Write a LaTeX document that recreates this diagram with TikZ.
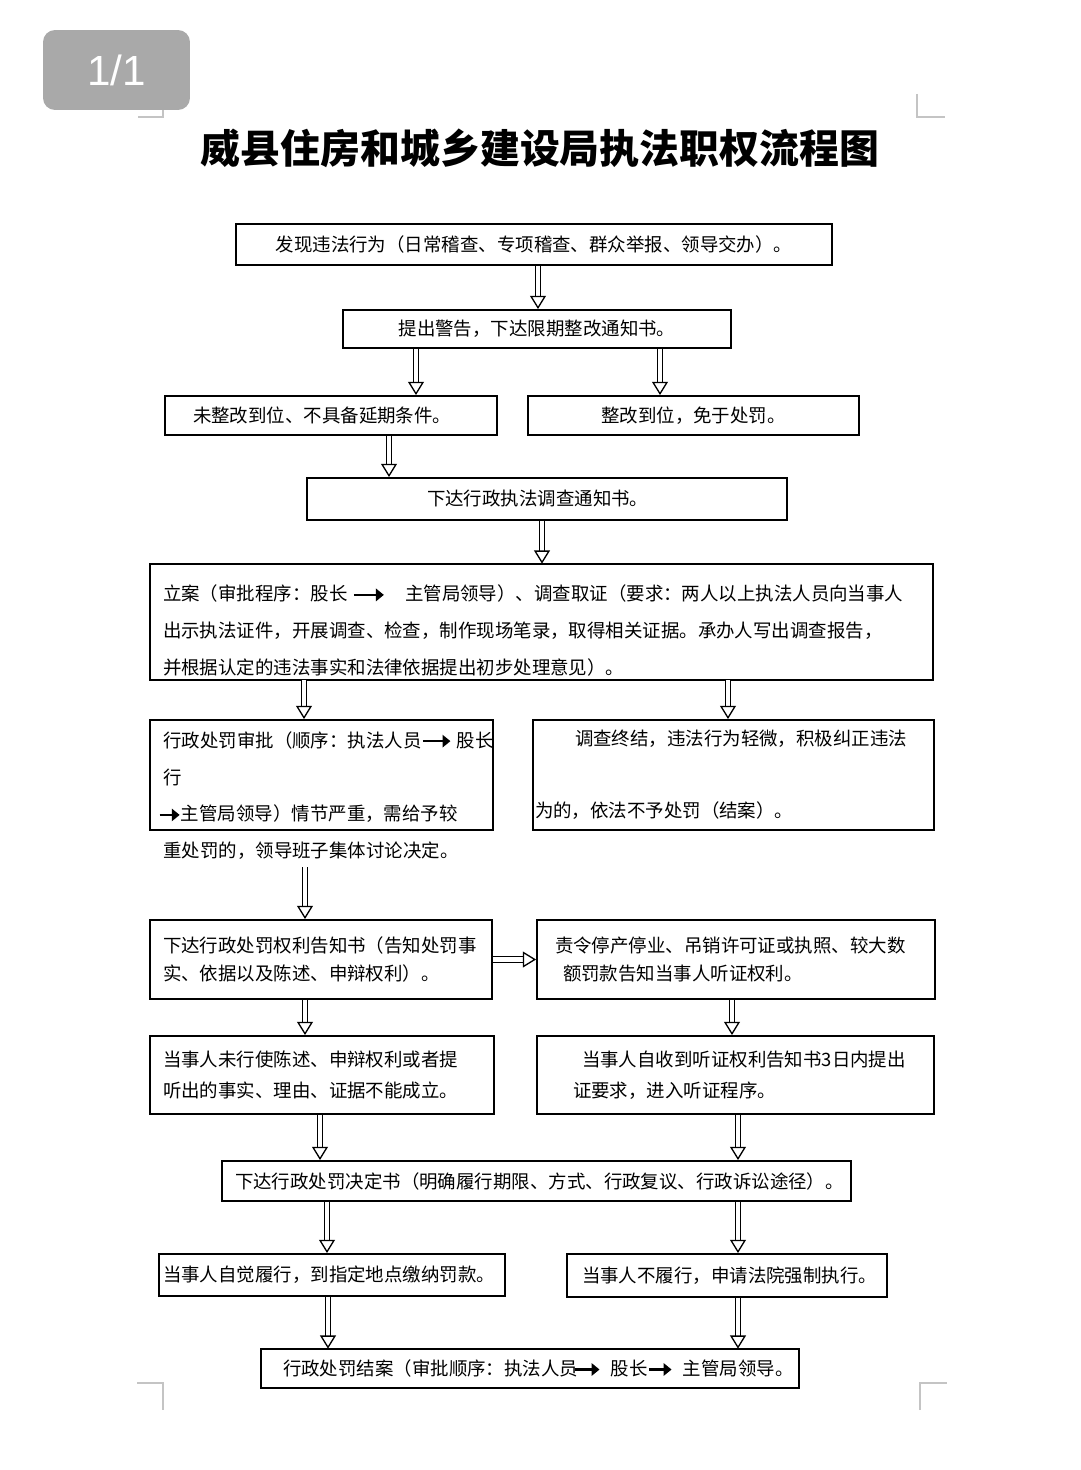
\documentclass[tikz,border=0pt]{standalone}
\usepackage{fontspec}
\newfontfamily\cjk{Noto Sans CJK SC}
\newfontfamily\pagefont{Liberation Sans}
\usetikzlibrary{arrows.meta}
\usetikzlibrary{calc}
\usetikzlibrary{positioning}

\definecolor{badgegray}{HTML}{A9A9A9}
\definecolor{markgray}{HTML}{C4C4C4}

\newcommand{\flowarr}[1][0.55cm]{\tikz[baseline = -0.6ex]\draw[line width = 1.5pt, -{Triangle[length = 4.5pt, width = 7pt]}] (0,0) -- (#1,0);}

\tikzset{
    box/.style  = {draw, inner ysep = 0pt, font = \cjk\fontsize{10.5pt}{16pt}\selectfont},
    dbl/.style  = {double distance = 2.4pt, line width = 0.75pt, -{Triangle[open, length = 7.5pt, width = 9pt, line width = 0.75pt]}},
    crop/.style = {markgray, line width = 0.9pt}
}

\begin{document}
\begin{tikzpicture}[x = 0.02cm, y = -0.02cm, line width = 1.1pt]

    \useasboundingbox (0,0) rectangle (1080,1470);

    % crop marks
    \draw[crop] (138,117) -- (163,117) -- (163,94);
    \draw[crop] (917,94) -- (917,117) -- (945,117);
    \draw[crop] (137,1383) -- (163,1383) -- (163,1410);
    \draw[crop] (920,1410) -- (920,1383) -- (947,1383);

    \node (Page) at (116.5,70) [fill = badgegray, rounded corners = 0.24cm, minimum width = 2.94cm, minimum height = 1.6cm, text = white, font = \pagefont\fontsize{24pt}{24pt}\selectfont] {1/1};

    \node (Title) at (540,148) [font = \cjk\bfseries\fontsize{22.7pt}{26pt}\selectfont] {威县住房和城乡建设局执法职权流程图};

    \node (B1) at (534,244.5) [box, align = center, text width = 11.92cm, inner xsep = 0pt, minimum height = 0.82cm] {发现违法行为（日常稽查、专项稽查、群众举报、领导交办）。};

    \node (B2) at (537,329) [box, align = center, text width = 7.76cm, inner xsep = 0pt, minimum height = 0.76cm] {提出警告，下达限期整改通知书。};

    \node (B3L) at (331,415.5) [box, align = left, text width = 5.52cm, inner xsep = 0.56cm, minimum height = 0.78cm] {未整改到位、不具备延期条件。};
    \node (B3R) at (693.5,415.5) [box, align = center, text width = 6.62cm, inner xsep = 0pt, minimum height = 0.78cm] {整改到位，免于处罚。};

    \node (B4) at (547,499) [box, align = left, text width = 4.8cm, inner xsep = 2.4cm, minimum height = 0.84cm] {下达行政执法调查通知书。};

    \node (B5) at (541.5,622) [box, align = left, text width = 15.14cm, inner xsep = 0.26cm, minimum height = 2.32cm, font = \cjk\fontsize{10.5pt}{21pt}\selectfont]
        {\rule{0pt}{19pt}立案（审批程序：股长\hspace{0.1cm}\flowarr[0.6cm]\hspace{0.4cm}主管局领导）、调查取证（要求：两人以上执法人员向当事人\\
         出示执法证件，开展调查、检查，制作现场笔录，取得相关证据。承办人写出调查报告，\\
         并根据认定的违法事实和法律依据提出初步处理意见）。};

    \node (B6L) at (321.5,775) [box, minimum width = 6.86cm, minimum height = 2.2cm] {};
    \node (T6L) at (163,731) [anchor = north west, inner sep = 0pt, align = left, font = \cjk\fontsize{10.5pt}{21pt}\selectfont]
        {行政处罚审批（顺序：执法人员\flowarr[0.55cm]\hspace{0.1cm}股长\\
         行\\
         \hspace*{-0.1cm}\flowarr[0.4cm]主管局领导）情节严重，需给予较\\
         重处罚的，领导班子集体讨论决定。};
    \node (B6R) at (733.5,775) [box, align = left, text width = 7.94cm, inner xsep = 0.04cm, minimum height = 2.2cm, font = \cjk\fontsize{10.5pt}{41pt}\selectfont]
        {\hspace*{0.8cm}调查终结，违法行为轻微，积极纠正违法\\
         为的，依法不予处罚（结案）。};

    \node (B7L) at (321,959.5) [box, align = left, text width = 6.32cm, inner xsep = 0.26cm, minimum height = 1.58cm]
        {下达行政处罚权利告知书（告知处罚事\\
         实、依据以及陈述、申辩权利）。};
    \node (B7R) at (736,959.5) [box, align = left, text width = 7.24cm, inner xsep = 0.36cm, minimum height = 1.58cm]
        {责令停产停业、吊销许可证或执照、较大数\\
         \hspace*{0.16cm}额罚款告知当事人听证权利。};

    \node (B8L) at (322,1075) [box, align = left, text width = 6.36cm, inner xsep = 0.26cm, minimum height = 1.56cm, font = \cjk\fontsize{10.5pt}{17.6pt}\selectfont]
        {当事人未行使陈述、申辩权利或者提\\
         听出的事实、理由、证据不能成立。};
    \node (B8R) at (735.5,1075) [box, align = left, text width = 6.5cm, inner xsep = 0.72cm, minimum height = 1.56cm, font = \cjk\fontsize{10.5pt}{17.6pt}\selectfont]
        {\hspace*{0.18cm}当事人自收到听证权利告知书3日内提出\\
         证要求，进入听证程序。};

    \node (B9) at (536.5,1181) [box, align = left, text width = 12.06cm, inner xsep = 0.26cm, minimum height = 0.8cm] {下达行政处罚决定书（明确履行期限、方式、行政复议、行政诉讼途径）。};

    \node (B10L) at (332,1275) [box, align = left, text width = 6.76cm, inner xsep = 0.08cm, minimum height = 0.84cm] {当事人自觉履行，到指定地点缴纳罚款。};
    \node (B10R) at (727,1275.5) [box, align = left, text width = 5.8cm, inner xsep = 0.3cm, minimum height = 0.86cm] {当事人不履行，申请法院强制执行。};

    \node (B11) at (530,1368.5) [box, align = left, text width = 9.88cm, inner xsep = 0.44cm, minimum height = 0.78cm]
        {\mbox{行政处罚结案（审批顺序：执法人员\hspace{-0.1cm}\flowarr[0.5cm]\hspace{0.2cm}股长\flowarr[0.45cm]\hspace{0.2cm}主管局领导。}};

    \draw[dbl] (B1.south -| 538,0) -- (B2.north -| 538,0);
    \draw[dbl] (B2.south -| 416,0) -- (B3L.north -| 416,0);
    \draw[dbl] (B2.south -| 660,0) -- (B3R.north -| 660,0);
    \draw[dbl] (B3L.south -| 389,0) -- (B4.north -| 389,0);
    \draw[dbl] (B4.south -| 542,0) -- (B5.north -| 542,0);
    \draw[dbl] (B5.south -| 304,0) -- (B6L.north -| 304,0);
    \draw[dbl] (B5.south -| 728,0) -- (B6R.north -| 728,0);
    \draw[dbl, shorten <= 4pt] (T6L.south -| 305,0) -- (B7L.north -| 305,0);
    \draw[dbl] (B7L.east) -- (B7R.west);
    \draw[dbl] (B7L.south -| 305,0) -- (B8L.north -| 305,0);
    \draw[dbl] (B7R.south -| 732,0) -- (B8R.north -| 732,0);
    \draw[dbl] (B8L.south -| 320,0) -- (B9.north -| 320,0);
    \draw[dbl] (B8R.south -| 738,0) -- (B9.north -| 738,0);
    \draw[dbl] (B9.south -| 327,0) -- (B10L.north -| 327,0);
    \draw[dbl] (B9.south -| 738,0) -- (B10R.north -| 738,0);
    \draw[dbl] (B10L.south -| 328,0) -- (B11.north -| 328,0);
    \draw[dbl] (B10R.south -| 738,0) -- (B11.north -| 738,0);

\end{tikzpicture}
\end{document}
